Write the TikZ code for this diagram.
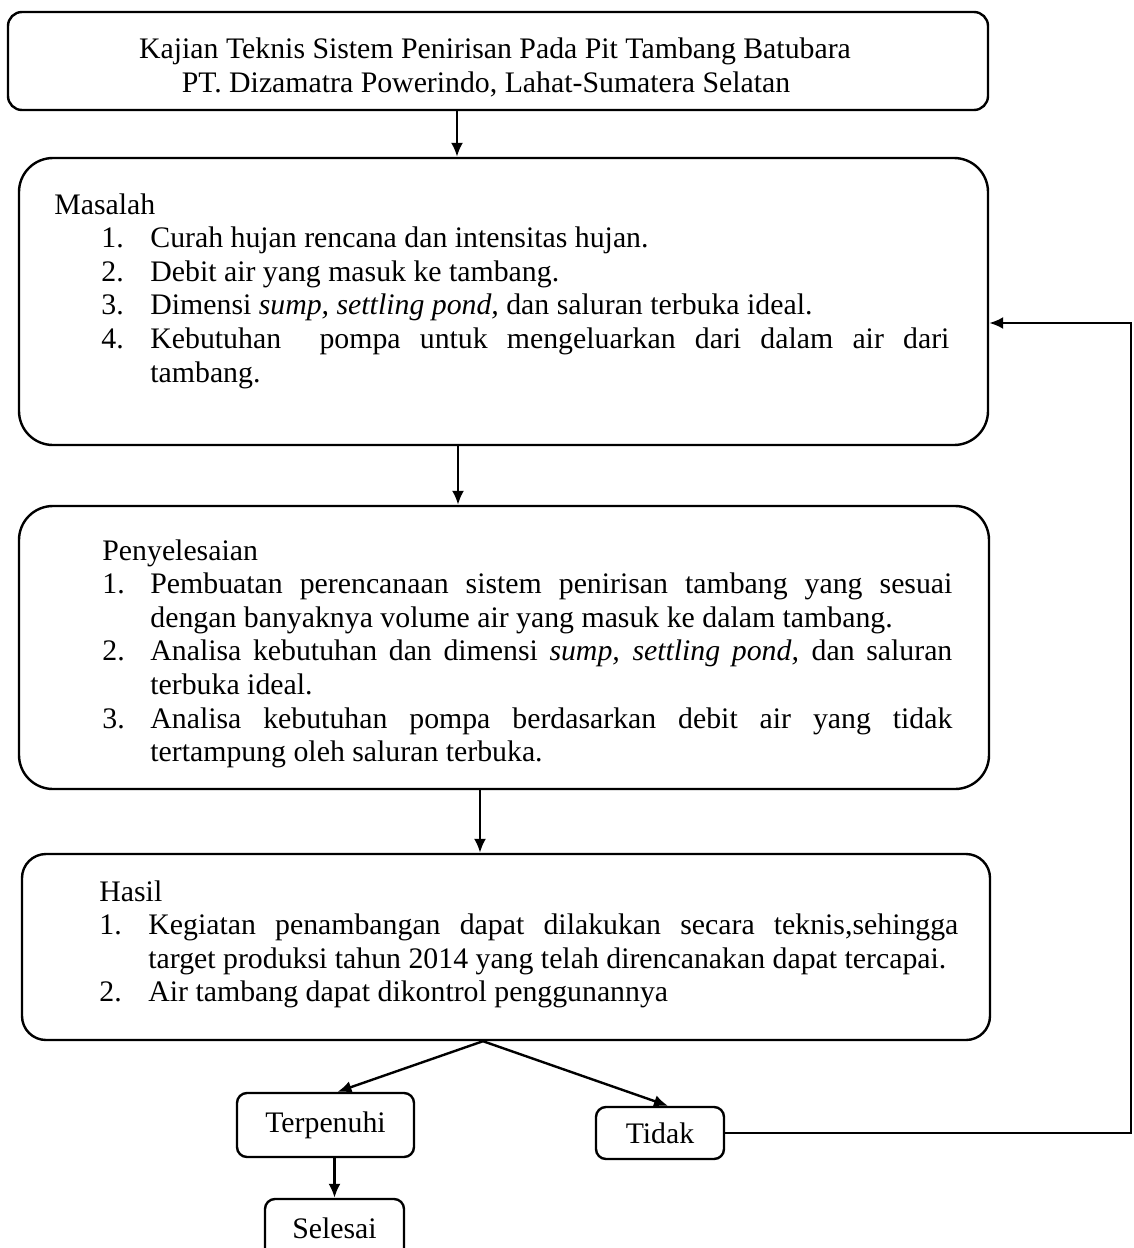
\documentclass[tikz,border=0pt]{standalone}
\usepackage{fontspec}
\setmainfont{Liberation Serif}
\usepackage{enumitem}
\usetikzlibrary{arrows.meta,calc}
\newcommand\mainfs{\fontsize{14.9}{16.8}\selectfont}
\setlist[enumerate]{label=\arabic*., align=left, labelsep=0pt, itemindent=0pt, itemsep=0pt, topsep=0pt, parsep=0pt, partopsep=0pt}
\begin{document}
\begin{tikzpicture}[x=0.5pt,y=-0.5pt,
  rbox/.style={draw, line width=1.2pt, inner sep=0pt, rounded corners=#1, font=\mainfs},
  rbox/.default=5pt,
  txt/.style={inner sep=0pt, anchor=base west, font=\mainfs, align=justify},
  ctxt/.style={inner sep=0pt, anchor=base, font=\mainfs},
  arr/.style={line width=1.2pt, -{Latex[length=7pt,width=6pt]}}]
\fill[white] (0,0) rectangle (1134,1248);
\useasboundingbox (0,0) rectangle (1134,1248);
\clip (0,0) rectangle (1134,1248);

% boxes
\node[rbox=7pt, minimum width=490pt, minimum height=49pt] (n1) at (498,61) {};
\node[rbox=17pt, minimum width=484.5pt, minimum height=143.5pt] (n2) at (503.5,301.5) {};
\node[rbox=17pt, minimum width=485pt, minimum height=141.5pt] (n3) at (504,647.5) {};
\node[rbox=12pt, minimum width=484pt, minimum height=93pt] (n4) at (506,947) {};
\node[rbox, minimum width=88.5pt, minimum height=32pt] (ny) at (325.5,1125) {Terpenuhi};
\node[rbox, minimum width=64pt, minimum height=26pt] (nt) at (660,1133) {Tidak};
\node[rbox, minimum width=69.5pt, minimum height=29.5pt] (ns) at (334.5,1228.5) {Selesai};

% title
\node[ctxt] (t1) at (495,58) {Kajian Teknis Sistem Penirisan Pada Pit Tambang Batubara};
\node[ctxt] (t2) at (486,92) {PT. Dizamatra Powerindo, Lahat-Sumatera Selatan};

% Masalah
\node[txt, text width=447.5pt] (m) at (54,214) {\noindent Masalah
\begin{enumerate}[leftmargin=48pt, labelwidth=24.5pt]
\item Curah hujan rencana dan intensitas hujan.
\item Debit air yang masuk ke tambang.
\item Dimensi \textit{sump, settling pond,} dan saluran terbuka ideal.
\item Kebutuhan\ \ pompa untuk mengeluarkan dari dalam air dari\linebreak tambang.
\end{enumerate}};

% Penyelesaian
\node[txt, text width=425pt] (p) at (102,560) {\noindent Penyelesaian
\begin{enumerate}[leftmargin=24pt, labelwidth=24pt]
\item Pembuatan perencanaan sistem penirisan tambang yang sesuai\linebreak dengan banyaknya volume air yang masuk ke dalam tambang.
\item Analisa kebutuhan dan dimensi \textit{sump, settling pond,} dan saluran\linebreak terbuka ideal.
\item Analisa kebutuhan pompa berdasarkan debit air yang tidak\linebreak tertampung oleh saluran terbuka.
\end{enumerate}};

% Hasil
\node[txt, text width=429.5pt] (h) at (99,901) {\noindent Hasil
\begin{enumerate}[leftmargin=24.5pt, labelwidth=24.5pt]
\item Kegiatan penambangan dapat dilakukan secara teknis,sehingga\linebreak target produksi tahun 2014 yang telah direncanakan dapat tercapai.
\item Air tambang dapat dikontrol penggunannya
\end{enumerate}};

% connectors
\coordinate (a1) at (457,0);
\coordinate (a2) at (458,0);
\coordinate (a3) at (480,0);
\coordinate (br) at (483,0);
\coordinate (rc) at (1131,323);
\draw[arr] (n1.south -| a1) -- (n2.north -| a1);
\draw[arr] (n2.south -| a2) -- (n3.north -| a2);
\draw[arr] (n3.south -| a3) -- (n4.north -| a3);
\draw[arr] (n4.south -| br) -- ([xshift=6pt]ny.north);
\draw[arr] (n4.south -| br) -- ([xshift=4pt]nt.north);
\draw[arr] (nt.east) -| (rc) -- (rc -| n2.east);
\draw[arr] (ns.north |- ny.south) -- (ns.north);
\end{tikzpicture}
\end{document}
